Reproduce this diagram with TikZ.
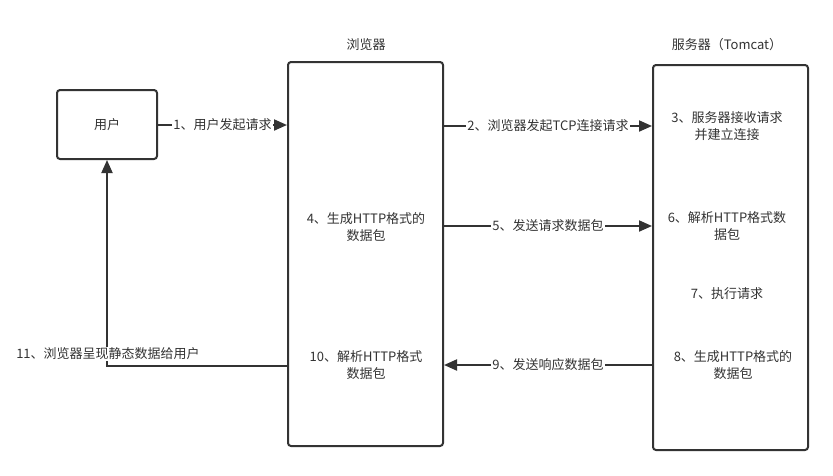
\documentclass[tikz,border=0pt]{standalone}
\usepackage{fontspec}
\setmainfont{Noto Sans CJK SC}
\usetikzlibrary{arrows.meta}
\definecolor{ink}{HTML}{333333}
\tikzset{
  box/.style={draw=ink, line width=2pt, rounded corners=3pt, fill=white},
  txt/.style={text=ink, font=\fontsize{13}{17.5}\selectfont, align=center, inner sep=1pt},
  lbl/.style={txt, fill=white, inner sep=1pt},
  conn/.style={draw=ink, line width=2pt, -{Triangle[length=13pt,width=11pt]}},
}
\begin{document}
\begin{tikzpicture}[x=1pt,y=-1pt]
\useasboundingbox (0,0) rectangle (833,475);
% boxes
\node[box, minimum width=100pt, minimum height=69pt] (user) at (107,124.5) {};
\node[txt] at (user.center) {用户};
\node[box, minimum width=155pt, minimum height=384pt] (browser) at (365.5,254) {};
\node[box, minimum width=155pt, minimum height=385pt] (server) at (730.5,257.5) {};
% titles
\node[txt] (tb) at (366,45) {浏览器};
\node[txt] (ts) at (727,45) {服务器（Tomcat）};
% inner texts
\node[txt] (t3) at (727,126) {3、服务器接收请求\\并建立连接};
\node[txt] (t4) at (366,227) {4、生成HTTP格式的\\数据包};
\node[txt] (t6) at (727,226) {6、解析HTTP格式数\\据包};
\node[txt] (t7) at (727,294) {7、执行请求};
\node[txt] (t8) at (733,365) {8、生成HTTP格式的\\数据包};
\node[txt] (t10) at (366,365) {10、解析HTTP格式\\数据包};
% anchor coordinates
\coordinate (u1) at (user.east |- 0,125);
\coordinate (b1) at (browser.west |- 0,125);
\coordinate (b2) at (browser.east |- 0,126);
\coordinate (s2) at (server.west |- 0,126);
\coordinate (b5) at (browser.east |- 0,226);
\coordinate (s5) at (server.west |- 0,226);
\coordinate (s9) at (server.west |- 0,365);
\coordinate (b9) at (browser.east |- 0,365);
\coordinate (b11) at (browser.west |- 0,366);
\coordinate (c11) at (107,366);
% connectors
\draw[conn] (u1) -- node[lbl] {1、用户发起请求} (b1);
\draw[conn] (b2) -- node[lbl] {2、浏览器发起TCP连接请求} (s2);
\draw[conn] (b5) -- node[lbl] {5、发送请求数据包} (s5);
\draw[conn] (s9) -- node[lbl, pos=0.5] {9、发送响应数据包} (b9);
\draw[conn] (b11) -- (c11) -- (user.south);
\node[lbl] (l11) at (108,354) {11、浏览器呈现静态数据给用户};
\end{tikzpicture}
\end{document}
